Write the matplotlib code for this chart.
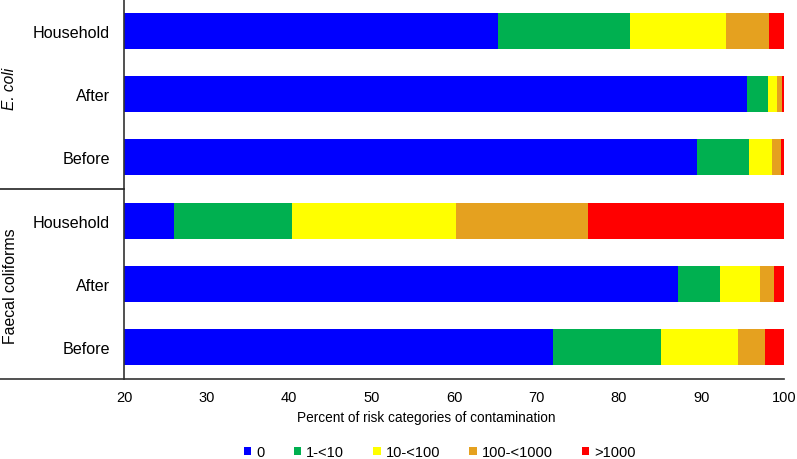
import numpy as np
import matplotlib.pyplot as plt

plt.rcParams['font.family'] = ['Liberation Sans', 'DejaVu Sans']

# rows bottom to top
rows = ["Before", "After", "Household", "Before", "After", "Household"]
categories = ["0", "1-<10", "10-<100", "100-<1000", ">1000"]
colors = ["#0000FF", "#00B050", "#FFFF00", "#E5A11F", "#FF0000"]

# percent per category, rows in the same order as above
# Faecal coliforms: Before, After, Household ; E. coli: Before, After, Household
cat_0 = [72.0, 87.1, 26.0, 89.5, 95.5, 65.3]
cat_1_10 = [13.1, 5.2, 14.4, 6.2, 2.5, 16.0]
cat_10_100 = [9.3, 4.8, 19.9, 2.8, 1.1, 11.7]
cat_100_1000 = [3.3, 1.7, 16.0, 1.1, 0.7, 5.2]
cat_1000 = [2.3, 1.2, 23.7, 0.4, 0.2, 1.8]

values = [cat_0, cat_1_10, cat_10_100, cat_100_1000, cat_1000]

W, H = 797, 460
fig = plt.figure(figsize=(W/100, H/100), dpi=100)
ax = fig.add_axes([124/W, 80/H, 660/W, 380/H])

y = np.arange(len(rows))
left = np.zeros(len(rows))
for vals, c, name in zip(values, colors, categories):
    ax.barh(y, vals, left=left, height=0.57, color=c, label=name)
    left = left + np.array(vals)

ax.set_xlim(20, 100)
ax.set_ylim(-0.5, 5.5)
ax.set_xticks(range(20, 101, 10))
ax.set_yticks(y)
ax.set_yticklabels(rows, fontsize=11.6)
ax.tick_params(axis='both', length=0)
ax.tick_params(axis='x', labelsize=10.5, pad=8)
ax.tick_params(axis='y', pad=10)
for s in ['top', 'right']:
    ax.spines[s].set_visible(False)
for s in ['left', 'bottom']:
    ax.spines[s].set_color('#333333')
    ax.spines[s].set_linewidth(1.2)

fig.text(426/W, 1 - 418/H, "Percent of risk categories of contamination",
         ha='center', va='center', fontsize=9.8)

# group separators extending into the label area
fig.add_artist(plt.Line2D([0, 124/W], [1 - 190/H, 1 - 190/H], color='#222222', lw=1.2))
fig.add_artist(plt.Line2D([0, 124/W], [80/H, 80/H], color='#333333', lw=1.2))

fig.text(10/W, 1 - 89/H, "E. coli", rotation=90, ha='center', va='center',
         fontsize=11.2, style='italic')
fig.text(11/W, 1 - 286/H, "Faecal coliforms", rotation=90, ha='center', va='center',
         fontsize=11.4)

leg = fig.legend(loc='center', bbox_to_anchor=(440/W, 1 - 453/H), ncol=5, frameon=False,
                 fontsize=10.5, handlelength=0.5, handleheight=0.5, handletextpad=0.35,
                 columnspacing=2.0, borderpad=0)

fig.savefig("out.png", dpi=100)
